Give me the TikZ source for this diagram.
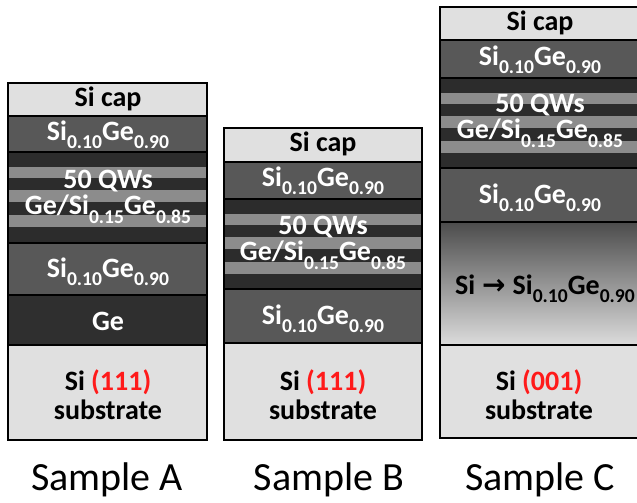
\documentclass[tikz,border=0pt]{standalone}
\usepackage{fontspec}
\setmainfont{Carlito}
\newfontfamily\arrowfont{DejaVu Sans}

\definecolor{capfill}{HTML}{E0E0E0}
\definecolor{sigefill}{HTML}{585858}
\definecolor{gefill}{HTML}{2F2F2F}
\definecolor{qwdark}{HTML}{2C2C2C}
\definecolor{qwlight}{HTML}{8C8C8C}
\definecolor{gradtop}{HTML}{4C4C4C}
\definecolor{gradbot}{HTML}{DCDCDC}
\definecolor{orientred}{HTML}{FF1A1A}

% lowered, reduced index for alloy compositions
\newcommand\lowidx[1]{\raisebox{-0.3em}{\scalebox{0.7}{#1}}}

% quantum-well stack: dark barriers with three light bands
% #1 = left x, #2 = right x, #3 = top y
\newcommand\qwbands[3]{%
  \fill[qwdark]  (#1,#3)    rectangle (#2,#3+90);
  \fill[qwlight] (#1,#3+15) rectangle (#2,#3+26);
  \fill[qwlight] (#1,#3+38) rectangle (#2,#3+50);
  \fill[qwlight] (#1,#3+63) rectangle (#2,#3+75);
}

\tikzset{
  layerline/.style={draw=black, line width=1.5pt},
  frame/.style={draw=black, line width=2pt},
  lbl/.style={inner sep=0pt, font=\bfseries\fontsize{28}{26}\selectfont,
              text=white, align=center},
  lbldark/.style={lbl, text=black},
  samplelbl/.style={inner sep=0pt, font=\fontsize{40}{40}\selectfont, text=black}
}

\begin{document}
\begin{tikzpicture}[x=1pt,y=-1pt]
\useasboundingbox (0,0) rectangle (637,503);
\fill[white] (0,0) rectangle (637,503);

% ---------- Sample A ----------
\fill[capfill]  (8,83)  rectangle (207,116);
\fill[sigefill] (8,116) rectangle (207,152);
\qwbands{8}{207}{152}
\fill[sigefill] (8,243) rectangle (207,295);
\fill[gefill]   (8,295) rectangle (207,345);
\fill[capfill]  (8,345) rectangle (207,440);
\foreach \y in {116,152,243,295,345} \draw[layerline] (8,\y) -- (207,\y);
\draw[frame] (8,83) rectangle (207,440);

\node[lbldark] (aCap)  at (108,99)  {Si cap};
\node[lbl]     (aTop)  at (108,135) {Si\lowidx{0.10}Ge\lowidx{0.90}};
\node[lbl]     (aQW)   at (108,197) {50 QWs\\Ge/Si\lowidx{0.15}Ge\lowidx{0.85}};
\node[lbl]     (aBot)  at (108,272) {Si\lowidx{0.10}Ge\lowidx{0.90}};
\node[lbl]     (aGe)   at (108,321) {Ge};
\node[lbldark] (aSub)  at (108,395) {Si \textcolor{orientred}{(111)}\\[3pt]substrate};
\node[samplelbl] (nameA) at (107,480) {Sample A};

% ---------- Sample B ----------
\fill[capfill]  (224,128) rectangle (422,162);
\fill[sigefill] (224,162) rectangle (422,199);
\qwbands{224}{422}{199}
\fill[sigefill] (224,289) rectangle (422,343);
\fill[capfill]  (224,343) rectangle (422,440);
\foreach \y in {162,199,289,343} \draw[layerline] (224,\y) -- (422,\y);
\draw[frame] (224,128) rectangle (422,440);

\node[lbldark] (bCap)  at (323,144) {Si cap};
\node[lbl]     (bTop)  at (323,181) {Si\lowidx{0.10}Ge\lowidx{0.90}};
\node[lbl]     (bQW)   at (323,243) {50 QWs\\Ge/Si\lowidx{0.15}Ge\lowidx{0.85}};
\node[lbl]     (bBot)  at (323,319) {Si\lowidx{0.10}Ge\lowidx{0.90}};
\node[lbldark] (bSub)  at (323,395) {Si \textcolor{orientred}{(111)}\\[3pt]substrate};
\node[samplelbl] (nameB) at (329,480) {Sample B};

% ---------- Sample C ----------
\fill[capfill]  (440,7)   rectangle (642,40);
\fill[sigefill] (440,40)  rectangle (642,78);
\qwbands{440}{642}{78}
\fill[sigefill] (440,168) rectangle (642,222);
\shade[top color=gradtop, bottom color=gradbot] (440,222) rectangle (642,345);
\fill[capfill]  (440,345) rectangle (642,438);
\foreach \y in {40,78,168,222,345} \draw[layerline] (440,\y) -- (642,\y);
\draw[frame] (440,7) rectangle (642,438);

\node[lbldark] (cCap)  at (540,23)  {Si cap};
\node[lbl]     (cTop)  at (540,60)  {Si\lowidx{0.10}Ge\lowidx{0.90}};
\node[lbl]     (cQW)   at (540,121) {50 QWs\\Ge/Si\lowidx{0.15}Ge\lowidx{0.85}};
\node[lbl]     (cBot)  at (540,198) {Si\lowidx{0.10}Ge\lowidx{0.90}};
\node[lbldark, anchor=east] (cGrad) at (635,289)
  {Si\hspace{0.25em}{\arrowfont\bfseries →}\hspace{0.25em}Si\lowidx{0.10}Ge\lowidx{0.90}};
\node[lbldark] (cSub)  at (539,395) {Si \textcolor{orientred}{(001)}\\[3pt]substrate};
\node[samplelbl] (nameC) at (540,480) {Sample C};
\end{tikzpicture}
\end{document}
